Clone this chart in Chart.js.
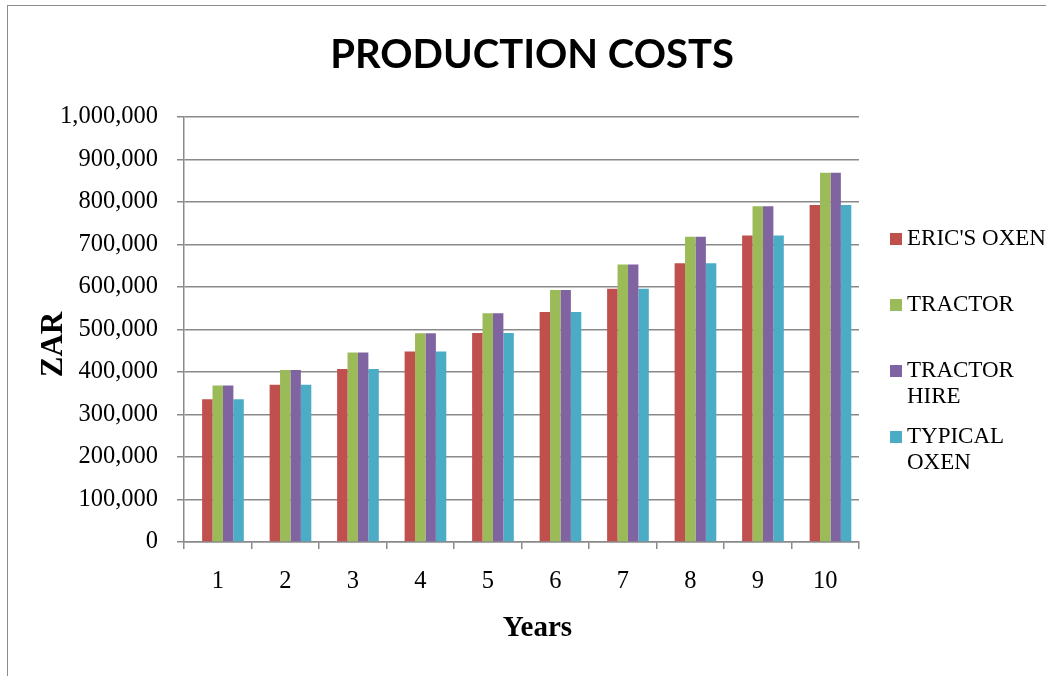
<!DOCTYPE html>
<html><head><meta charset="utf-8">
<script src="https://cdn.jsdelivr.net/npm/chart.js@4"></script>
<style>
html,body{margin:0;padding:0;background:#fff;}
#wrap{position:relative;width:1046px;height:676px;overflow:hidden;background:#fff;}
#frame{position:absolute;left:7px;top:5px;width:1100px;height:700px;border:1px solid #8c8c8c;box-sizing:border-box;}
#c{position:absolute;left:0;top:0;}
</style></head><body>
<div id="wrap"><div id="frame"></div><canvas id="c" width="1046" height="676"></canvas></div>
<script>
// ---- data ----
const years = ['1','2','3','4','5','6','7','8','9','10'];
const seriesNames = ["ERIC'S OXEN", 'TRACTOR', 'TRACTOR HIRE', 'TYPICAL OXEN'];
const ericsOxen   = [336000, 370000, 407000, 448000, 492000, 541000, 596000, 656000, 721000, 793000];
const tractor     = [368000, 405000, 446000, 491000, 538000, 593000, 653000, 718000, 790000, 869000];
const tractorHire = [368000, 405000, 446000, 491000, 538000, 593000, 653000, 718000, 790000, 869000];
const typicalOxen = [336000, 370000, 407000, 448000, 492000, 541000, 596000, 656000, 721000, 793000];
const yMin = 0, yMax = 1000000, yStep = 100000;
const chartTitle = 'PRODUCTION COSTS';
const xTitle = 'Years';
const yTitle = 'ZAR';

// ---- style ----
const colors = ['#C0504D', '#9BBB59', '#8064A2', '#4BACC6'];
const gridColor = '#8a8a8a';
const serif = "'Liberation Serif', 'Times New Roman', serif";

const values = [ericsOxen, tractor, tractorHire, typicalOxen];

const extras = {
  id: 'extras',
  afterDraw(chart) {
    const {ctx, chartArea: a} = chart;
    ctx.save();
    ctx.fillStyle = '#000';
    // axis titles
    ctx.font = 'bold 31px ' + serif;
    ctx.textAlign = 'center';
    ctx.textBaseline = 'middle';
    ctx.save();
    ctx.translate(54, (a.top + a.bottom) / 2 + 15);
    ctx.rotate(-Math.PI / 2);
    ctx.fillText(yTitle, 0, 0);
    ctx.restore();
    ctx.font = 'bold 29px ' + serif;
    ctx.fillText(xTitle, (a.left + a.right) / 2 + 16, a.bottom + 87);
    // legend (series only)
    ctx.font = '23px ' + serif;
    ctx.textAlign = 'left';
    const maxW = 145;
    chart.data.datasets.filter(ds => ds.label).forEach((ds, i) => {
      const cy = a.top + 122 + i * 66;
      ctx.fillStyle = ds.backgroundColor;
      ctx.fillRect(a.right + 31, cy - 6, 12, 12);
      ctx.fillStyle = '#000';
      let lines = [ds.label];
      if (ctx.measureText(ds.label).width > maxW) {
        const k = ds.label.lastIndexOf(' ');
        lines = [ds.label.slice(0, k), ds.label.slice(k + 1)];
      }
      lines.forEach((ln, j) => ctx.fillText(ln, a.right + 48, cy + j * 25.5));
    });
    ctx.restore();
  }
};

// the reference reserves an empty first bar slot in every group
const datasets = [{label: '', data: [], backgroundColor: 'rgba(0,0,0,0)', borderWidth: 0,
  categoryPercentage: 0.772, barPercentage: 1.0}].concat(
  seriesNames.map((n, i) => ({
    label: n,
    data: values[i],
    backgroundColor: colors[i],
    borderWidth: 0,
    categoryPercentage: 0.772,
    barPercentage: 1.0
  })));

new Chart(document.getElementById('c'), {
  type: 'bar',
  data: {labels: years, datasets},
  options: {
    responsive: false,
    animation: false,
    devicePixelRatio: 1,
    layout: {padding: {left: 18, right: 0, top: 0, bottom: 0}},
    plugins: {
      legend: {display: false},
      tooltip: {enabled: false},
      title: {
        display: true,
        text: chartTitle,
        color: '#000',
        fullSize: true,
        font: {family: "Lato, 'Liberation Sans', sans-serif", size: 40, weight: 'bold', lineHeight: 1.2},
        padding: {top: 31, bottom: 38}
      }
    },
    scales: {
      x: {
        grid: {display: true, drawOnChartArea: false, offset: true, color: gridColor, lineWidth: 1.5, tickLength: 7},
        border: {display: true, color: gridColor, width: 1.5},
        ticks: {color: '#000', font: {family: serif, size: 24.5}, padding: 18, maxRotation: 0},
        afterFit: s => { s.height = 134; }
      },
      y: {
        min: yMin, max: yMax,
        grid: {color: gridColor, lineWidth: 1.5, tickLength: 7},
        border: {display: true, color: gridColor, width: 1.5},
        ticks: {stepSize: yStep, color: '#000', font: {family: serif, size: 24.5}, padding: 19,
          callback: v => Number(v).toLocaleString('en-US')},
        afterFit: s => { s.width = 166; }
      },
      yR: {
        type: 'linear', position: 'right', display: true,
        grid: {display: false}, border: {display: false}, ticks: {display: false},
        afterFit: s => { s.width = 187; }
      }
    }
  },
  plugins: [extras]
});
</script>
</body></html>
